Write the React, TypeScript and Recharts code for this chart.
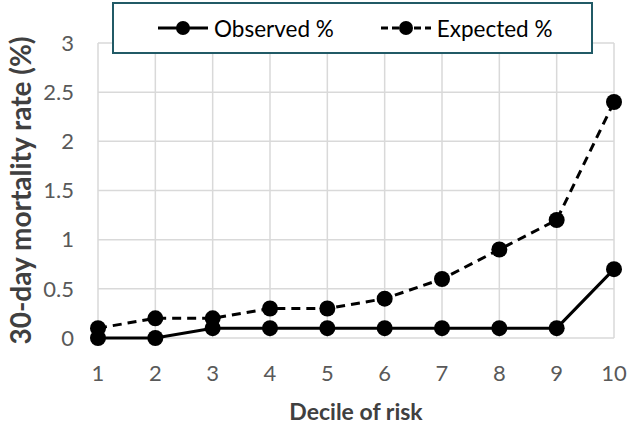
import React from 'react';
import { LineChart, Line, XAxis, YAxis, CartesianGrid } from 'recharts';

const deciles = [1, 2, 3, 4, 5, 6, 7, 8, 9, 10];
const observed = [0, 0, 0.1, 0.1, 0.1, 0.1, 0.1, 0.1, 0.1, 0.7];
const expected = [0.1, 0.2, 0.2, 0.3, 0.3, 0.4, 0.6, 0.9, 1.2, 2.4];
const yTicks = [0, 0.5, 1, 1.5, 2, 2.5, 3];
const seriesNames = ['Observed %', 'Expected %'];

const data = deciles.map((d, i) => ({ decile: d, observed: observed[i], expected: expected[i] }));

const FONT = 'Lato, "Liberation Sans", sans-serif';

function LegendBox() {
  const item = (label: string, dash?: string) => (
    <div key={label} style={{ display: 'flex', alignItems: 'center' }}>
      <svg width={50} height={20} style={{ marginRight: 6 }}>
        <line x1={0} y1={10} x2={50} y2={10} stroke="#000" strokeWidth={3} strokeDasharray={dash} />
        <circle cx={25} cy={10} r={7} fill="#000" />
      </svg>
      <span>{label}</span>
    </div>
  );
  return (
    <div
      style={{
        position: 'absolute',
        left: 112,
        top: 2,
        boxSizing: 'border-box',
        width: 481,
        height: 52,
        border: '2px solid #215a66',
        background: '#fff',
        display: 'flex',
        alignItems: 'center',
        paddingLeft: 44,
        gap: 47,
        fontFamily: FONT,
        fontSize: 22.5,
        color: '#000',
      }}
    >
      {item(seriesNames[0])}
      {item(seriesNames[1], '7 4')}
    </div>
  );
}

export default function App() {
  return (
    <div style={{ position: 'absolute', left: 0, top: 0, width: 628, height: 424, background: '#fff' }}>
      <LineChart width={628} height={424} data={data} margin={{ top: 43, right: 14, left: 0, bottom: 0 }}>
        <CartesianGrid stroke="#d9d9d9" strokeWidth={1.5} />
        <XAxis
          dataKey="decile"
          type="number"
          domain={[1, 10]}
          ticks={deciles}
          height={86}
          axisLine={false}
          tickLine={false}
          tickSize={0}
          tickMargin={27}
          tick={{ fill: '#595959', fontSize: 22, fontFamily: FONT }}
          label={{
            content: ({ viewBox }: any) => (
              <text
                x={viewBox.x + viewBox.width / 2}
                y={411}
                textAnchor="middle"
                dominantBaseline="central"
                fontFamily={FONT}
                fontSize={23}
                fontWeight="bold"
                fill="#404040"
              >
                Decile of risk
              </text>
            ),
          }}
        />
        <YAxis
          domain={[0, 3]}
          ticks={yTicks}
          width={98}
          axisLine={false}
          tickLine={false}
          tickSize={0}
          tickMargin={24}
          tick={{ fill: '#595959', fontSize: 22, fontFamily: FONT }}
          label={{
            content: ({ viewBox }: any) => {
              const cx = 20;
              const cy = viewBox.y + viewBox.height / 2;
              return (
                <text
                  x={cx}
                  y={cy}
                  transform={`rotate(-90 ${cx} ${cy})`}
                  textAnchor="middle"
                  dominantBaseline="central"
                  fontFamily={FONT}
                  fontSize={28}
                  fontWeight="bold"
                  fill="#404040"
                >
                  30-day mortality rate (%)
                </text>
              );
            },
          }}
        />
        <Line
          dataKey="observed"
          name={seriesNames[0]}
          stroke="#000"
          strokeWidth={3}
          dot={{ r: 8, fill: '#000', stroke: '#000', strokeWidth: 0 }}
          isAnimationActive={false}
        />
        <Line
          dataKey="expected"
          name={seriesNames[1]}
          stroke="#000"
          strokeWidth={3}
          strokeDasharray="9 6"
          dot={{ r: 8, fill: '#000', stroke: '#000', strokeWidth: 0, strokeDasharray: '' }}
          isAnimationActive={false}
        />
      </LineChart>
      <LegendBox />
    </div>
  );
}
